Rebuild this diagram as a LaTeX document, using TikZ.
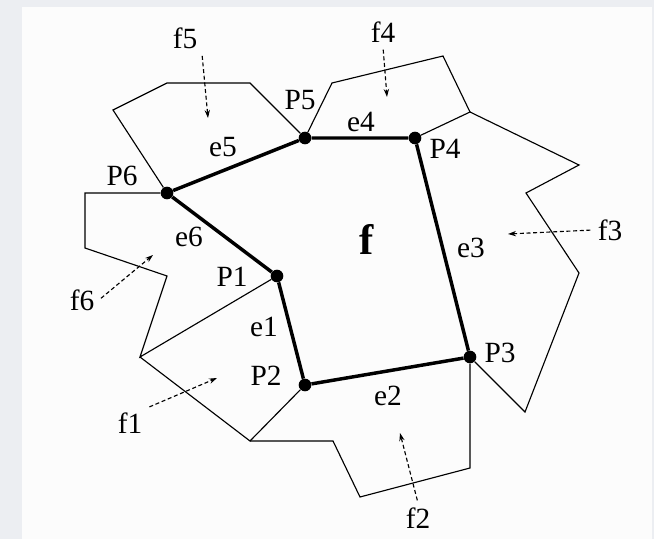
\documentclass[tikz,border=0pt]{standalone}
\usepackage{fontspec}
\setmainfont{Liberation Serif}
\usetikzlibrary{arrows.meta}
\definecolor{bggray}{RGB}{236,238,242}
\definecolor{paper}{RGB}{252,252,252}
\tikzset{
  every node/.style={font=\rmfamily\fontsize{22}{26}\selectfont},
  vtx/.style={circle, fill=black, inner sep=0pt, minimum size=9.5pt},
  thinedge/.style={line width=0.85pt},
  boldedge/.style={line width=2.6pt},
  faceptr/.style={-{Stealth[length=6pt,width=4pt]}, densely dashed, line width=0.85pt, shorten <=2pt},
}
\begin{document}
\begin{tikzpicture}[x=0.75pt,y=-0.75pt]
    \fill[bggray] (0,0) rectangle (654,539);
    \fill[paper] (22,7) rectangle (652,539);
    % vertices of face f
    \node[vtx] (p1) at (277,276) {};
    \node[vtx] (p2) at (305,385) {};
    \node[vtx] (p3) at (470,357) {};
    \node[vtx] (p4) at (415,138) {};
    \node[vtx] (p5) at (305,138) {};
    \node[vtx] (p6) at (167,193) {};
    % corners of the neighbouring faces
    \coordinate (q1) at (113,110);
    \coordinate (q2) at (167,83);
    \coordinate (q3) at (250,83);
    \coordinate (q4) at (85,193);
    \coordinate (q5) at (85,248);
    \coordinate (q6) at (167,276);
    \coordinate (q7) at (140,357);
    \coordinate (q8) at (250,441);
    \coordinate (q9) at (333,441);
    \coordinate (q10) at (360,497);
    \coordinate (q11) at (470,468);
    \coordinate (q12) at (525,412);
    \coordinate (q13) at (579,273);
    \coordinate (q14) at (526,193);
    \coordinate (q15) at (579,165);
    \coordinate (q16) at (470,112);
    \coordinate (q17) at (443,56);
    \coordinate (q18) at (332,83);
    \draw[thinedge] (p6) -- (q1) -- (q2) -- (q3) -- (p5);
    \draw[thinedge] (p6) -- (q4) -- (q5) -- (q6) -- (q7) -- (p1);
    \draw[thinedge] (q7) -- (q8) -- (p2);
    \draw[thinedge] (q8) -- (q9) -- (q10) -- (q11) -- (p3);
    \draw[thinedge] (p3) -- (q12) -- (q13) -- (q14) -- (q15) -- (q16) -- (p4);
    \draw[thinedge] (q16) -- (q17) -- (q18) -- (p5);
    % boundary of f
    \draw[boldedge] (p1) -- (p2) -- (p3) -- (p4) -- (p5) -- (p6) -- (p1);
    % vertex and edge labels
    \node (lp1) at (232,277) {P1};
    \node (lp2) at (266,376) {P2};
    \node (lp3) at (500,353) {P3};
    \node (lp4) at (445,149) {P4};
    \node (lp5) at (300,100) {P5};
    \node (lp6) at (122,176) {P6};
    \node (le1) at (264,327) {e1};
    \node (le2) at (388,396) {e2};
    \node (le3) at (471,248) {e3};
    \node (le4) at (361,122) {e4};
    \node (le5) at (223,147) {e5};
    \node (le6) at (189,237) {e6};
    \node[font=\rmfamily\fontsize{32}{38}\selectfont\bfseries] (fc) at (367,239) {f};
    % neighbouring faces
    \node (f1) at (130,423) {f1};
    \node (f2) at (418,518) {f2};
    \node (f3) at (610,230) {f3};
    \node (f4) at (383,32) {f4};
    \node (f5) at (185,38) {f5};
    \node (f6) at (82,300) {f6};
    \coordinate (t1) at (217,378);
    \coordinate (t2) at (400,433);
    \coordinate (t3) at (508,234);
    \coordinate (t4) at (387,97);
    \coordinate (t5) at (208,118);
    \coordinate (t6) at (153,255);
    \draw[faceptr] (f1.north east) -- (t1);
    \draw[faceptr] (f2.north) -- (t2);
    \draw[faceptr] (f3.west) -- (t3);
    \draw[faceptr] (f4.south) -- (t4);
    \draw[faceptr] (f5.south east) -- (t5);
    \draw[faceptr] (f6.east) -- (t6);
\end{tikzpicture}
\end{document}
